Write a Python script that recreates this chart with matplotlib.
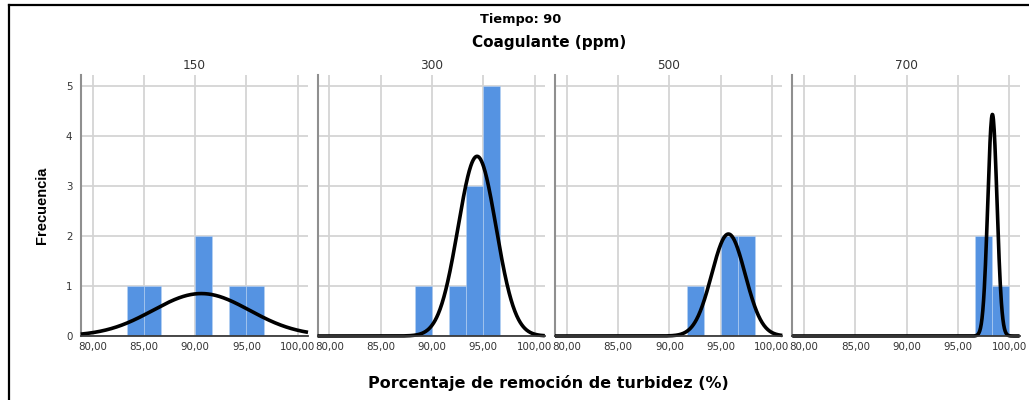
import numpy as np
import matplotlib
matplotlib.use("Agg")
import matplotlib.pyplot as plt
from matplotlib.lines import Line2D

# Coagulant doses (ppm) shown as panels
doses = ["150", "300", "500", "700"]

# Histogram bins (lower edge of each bin, % turbidity removal) and frequencies
bin_width = 5.0 / 3.0
bins_150 = [83.33, 85.00, 90.00, 93.33, 95.00]
counts_150 = [1, 1, 2, 1, 1]
bins_300 = [88.33, 91.67, 93.33, 95.00]
counts_300 = [1, 1, 3, 5]
bins_500 = [91.67, 95.00, 96.67]
counts_500 = [1, 2, 2]
bins_700 = [96.67, 98.33]
counts_700 = [2, 1]

# Fitted normal curve parameters per dose
curve_means = [90.6, 94.4, 95.75, 98.35]
curve_sds = [4.7, 1.85, 1.63, 0.45]

x_ticks = [80, 85, 90, 95, 100]
x_tick_labels = ["80,00", "85,00", "90,00", "95,00", "100,00"]
y_ticks = [0, 1, 2, 3, 4, 5]

panel_bins = [bins_150, bins_300, bins_500, bins_700]
panel_counts = [counts_150, counts_300, counts_500, counts_700]

BAR_COLOR = "#5593e2"
GRID_COLOR = "#d4d4d4"
TEXT_COLOR = "#333333"

plt.rcParams["font.family"] = ["DejaVu Sans"]

fig = plt.figure(figsize=(10.29, 4.0), dpi=100)

W, H = 1029.0, 400.0
ax_lefts = [80.7, 317.5, 555.0, 792.3]
ax_width = 227.3
ax_top, ax_bottom = 75.0, 336.0

xmin, xmax = 78.85, 101.0
xs = np.linspace(xmin, xmax, 600)

for i, (dose, lefts, counts) in enumerate(zip(doses, panel_bins, panel_counts)):
    ax = fig.add_axes([ax_lefts[i] / W, 1 - ax_bottom / H,
                       ax_width / W, (ax_bottom - ax_top) / H])
    ax.bar(lefts, counts, width=bin_width, align="edge", color=BAR_COLOR,
           edgecolor="#b9d3f3", linewidth=0.4, zorder=2)

    n = sum(counts)
    mu, sd = curve_means[i], curve_sds[i]
    ys = n * bin_width * np.exp(-0.5 * ((xs - mu) / sd) ** 2) / (sd * np.sqrt(2 * np.pi))
    ax.plot(xs, ys, color="black", linewidth=2.6, zorder=3,
            solid_capstyle="butt", clip_on=False)

    ax.set_xlim(xmin, xmax)
    ax.set_ylim(0, 5.22)
    ax.set_xticks(x_ticks)
    ax.set_xticklabels(x_tick_labels)
    ax.set_yticks(y_ticks)
    ax.grid(True, color=GRID_COLOR, linewidth=1.3, zorder=0)
    ax.set_axisbelow(True)
    ax.tick_params(axis="both", length=0, labelsize=7.4, colors=TEXT_COLOR)
    ax.tick_params(axis="x", pad=4)
    ax.tick_params(axis="y", pad=6)
    if i > 0:
        ax.tick_params(axis="y", labelleft=False)

    for side in ("top", "right"):
        ax.spines[side].set_visible(False)
    ax.spines["left"].set_color("#8f8f8f")
    ax.spines["left"].set_linewidth(1.5)
    ax.spines["bottom"].set_color("#3a3a3a")
    ax.spines["bottom"].set_linewidth(1.3)
    ax.spines["bottom"].set_zorder(4)

    ax.set_title(dose, fontsize=8.7, color=TEXT_COLOR, pad=4)

fig.text(521 / W, 1 - 20 / H, "Tiempo: 90", ha="center", va="center",
         fontsize=9.3, fontweight="bold", color="black")
fig.text(549 / W, 1 - 42 / H, "Coagulante (ppm)", ha="center", va="center",
         fontsize=11, fontweight="bold", color="black")
fig.text(548.5 / W, 1 - 383 / H, "Porcentaje de remoción de turbidez (%)",
         ha="center", va="center", fontsize=11.5, fontweight="bold", color="black")
fig.text(41.7 / W, 1 - 205 / H, "Frecuencia", ha="center", va="center",
         rotation=90, fontsize=10.5, fontweight="bold", color="black",
         family=["Liberation Sans Narrow", "Liberation Sans", "DejaVu Sans"])

# Outer frame (top and left edges)
fig.add_artist(Line2D([9 / W, 1.0], [1 - 4.7 / H, 1 - 4.7 / H],
                      transform=fig.transFigure, color="black", linewidth=1.6))
fig.add_artist(Line2D([9 / W, 9 / W], [0.0, 1 - 4.7 / H],
                      transform=fig.transFigure, color="black", linewidth=1.6))

fig.savefig("out.png", dpi=100)
